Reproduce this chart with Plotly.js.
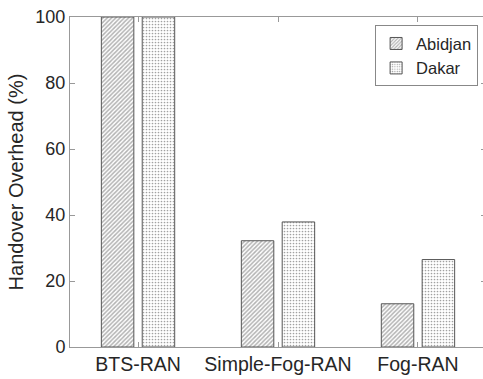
<!DOCTYPE html>
<html>
<head>
<meta charset="utf-8">
<script src="https://cdn.plot.ly/plotly-3.0.1.min.js"></script>
<style>html,body{margin:0;padding:0;overflow:hidden;background:#fff;}</style>
</head>
<body>
<div id="chart"></div>
<script>
const categories = ['BTS-RAN', 'Simple-Fog-RAN', 'Fog-RAN'];
const abidjan = [100, 32.2, 13.1];
const dakar = [100, 37.9, 26.5];
const yTicks = [0, 20, 40, 60, 80, 100];

const font = '"Liberation Sans", Arial, Helvetica, sans-serif';
const traces = [
  {
    type: 'bar', name: 'Abidjan', x: [0, 1, 2], y: abidjan,
    width: 0.232, offset: -0.262,
    marker: {color: '#ffffff', line: {color: '#555', width: 1},
             pattern: {shape: '/', size: 3, solidity: 0.5, fgcolor: '#666', bgcolor: '#ffffff', fillmode: 'overlay'}}
  },
  {
    type: 'bar', name: 'Dakar', x: [0, 1, 2], y: dakar,
    width: 0.232, offset: 0.03,
    marker: {color: '#ffffff', line: {color: '#555', width: 1},
             pattern: {shape: '.', size: 3, solidity: 0.25, fgcolor: '#444', bgcolor: '#ffffff', fillmode: 'overlay'}}
  }
];
const layout = {
  width: 486, height: 379,
  margin: {l: 70, r: 0, t: 17, b: 32, pad: 0},
  paper_bgcolor: '#fff', plot_bgcolor: '#fff',
  font: {family: font, color: '#262626', size: 17},
  barmode: 'group',
  showlegend: true,
  legend: {x: 0.981, xanchor: 'right', y: 0.975, yanchor: 'top',
           bgcolor: '#fff', bordercolor: '#888', borderwidth: 1,
           font: {family: font, size: 16.5, color: '#262626'},
           tracegroupgap: 0, itemwidth: 30},
  xaxis: {
    range: [-0.486, 2.486], tickmode: 'array', tickvals: [0, 1, 2], ticktext: categories,
    showline: true, linecolor: '#999', linewidth: 1, mirror: 'ticks',
    ticks: 'inside', ticklen: 5, tickcolor: '#999', showgrid: false, zeroline: false,
    tickfont: {family: font, size: 19.5, color: '#262626'}
  },
  yaxis: {
    range: [0, 100], tickmode: 'array', tickvals: yTicks,
    showline: true, linecolor: '#999', linewidth: 1, mirror: 'ticks',
    ticks: 'inside', ticklen: 5, tickcolor: '#999', showgrid: false, zeroline: false,
    tickfont: {family: font, size: 18, color: '#262626'},
    title: {text: 'Handover Overhead (%)', font: {family: font, size: 20, color: '#262626'}, standoff: 6}
  }
};
Plotly.newPlot('chart', traces, layout, {displayModeBar: false, staticPlot: true});
</script>
</body>
</html>
